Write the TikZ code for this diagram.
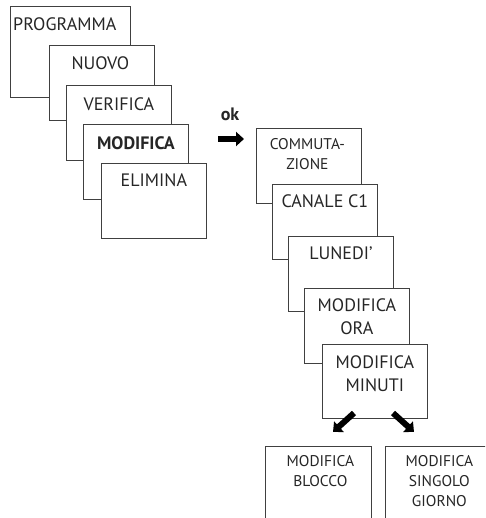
\documentclass[tikz,border=0pt]{standalone}
\usepackage{fontspec}
\setmainfont{PT Sans}
\usetikzlibrary{arrows.meta,positioning}
\tikzset{
  menubox/.style={draw=black!75,line width=.8pt,fill=white,minimum width=105pt,
    minimum height=75pt,inner sep=0pt,anchor=north west},
  menutext/.style={anchor=north,align=center,inner sep=0pt,text=black!85,
    font=\fontsize{18}{23}\selectfont},
  smalltext/.style={menutext,font=\fontsize{15.5}{20}\selectfont},
  blockarrow/.style={line width=6pt,-{Triangle[length=8pt,width=14pt]}}
}
\begin{document}
\begin{tikzpicture}[x=1pt,y=-1pt]
\clip (0,0) rectangle (485,518);
% left column
\node[menubox,minimum width=120pt,minimum height=91pt] (prog) at (10,6) {};
\node[menutext,anchor=north west] (progt) at ([xshift=3pt,yshift=-11pt]prog.north west) {PROGRAMMA};
\node[menubox] (nuovo) at (49,45) {};
\node[menutext] (nuovot) at ([xshift=-1.5pt,yshift=-11pt]nuovo.north) {NUOVO};
\node[menubox] (verif) at (66,85) {};
\node[menutext] (veri) at ([yshift=-12pt]verif.north) {VERIFICA};
\node[menubox] (modif) at (83,124) {};
\node[menutext,font=\fontsize{18}{23}\selectfont\bfseries] (modift) at ([yshift=-12pt]modif.north) {MODIFICA};
\node[menubox] (elim) at (101,163) {};
\node[menutext] (elimt) at ([yshift=-11pt]elim.north) {ELIMINA};
% ok
\node[font=\fontsize{18}{20}\selectfont\bfseries,text=black!85] (ok) at (230,114) {ok};
\coordinate (oka) at (218,139);
\coordinate (okb) at (244,139);
\draw[blockarrow] (oka) -- (okb);
% right column
\node[menubox] (comm) at (256,128) {};
\node[smalltext] (commt) at ([xshift=-1.5pt,yshift=-10pt]comm.north) {COMMUTA-\\ZIONE};
\node[menubox] (canale) at (272,184) {};
\node[menutext] (canalet) at ([yshift=-10pt]canale.north) {CANALE C1};
\node[menubox] (lunedi) at (288,236) {};
\node[menutext] (lunedit) at ([yshift=-11pt]lunedi.north) {LUNEDI’};
\node[menubox] (ora) at (304,288) {};
\node[menutext] (orat) at ([yshift=-10pt]ora.north) {MODIFICA\\ORA};
\node[menubox,minimum height=74pt] (minuti) at (322,344) {};
\node[menutext] (minutit) at ([yshift=-11pt]minuti.north) {MODIFICA\\MINUTI};
% arrows to the two choices
\coordinate (la) at (354,413);
\coordinate (lb) at (333,432);
\coordinate (ra) at (393,413);
\coordinate (rb) at (414,432);
\draw[blockarrow] (la) -- (lb);
\draw[blockarrow] (ra) -- (rb);
\node[menubox,minimum width=106pt,minimum height=90pt] (blocco) at (265,446) {};
\node[smalltext] (bloccot) at ([xshift=2pt,yshift=-9pt]blocco.north) {MODIFICA\\BLOCCO};
\node[menubox,minimum width=106pt,minimum height=90pt] (singolo) at (385,446) {};
\node[smalltext] (singolot) at ([xshift=1pt,yshift=-9pt]singolo.north) {MODIFICA\\SINGOLO\\GIORNO};
\end{tikzpicture}
\end{document}
